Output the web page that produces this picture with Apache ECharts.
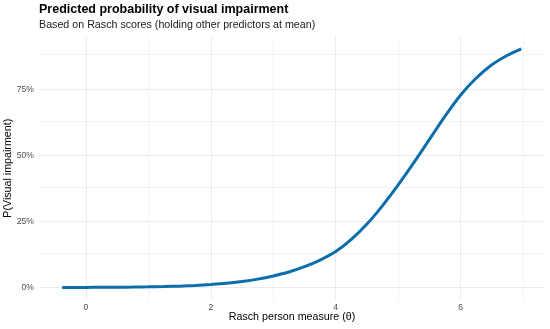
<!DOCTYPE html>
<html>
<head>
<meta charset="utf-8">
<script src="https://cdn.jsdelivr.net/npm/echarts@6/dist/echarts.min.js"></script>
<style>html,body{margin:0;padding:0;background:#fff}#c{width:550px;height:329px}</style>
</head>
<body>
<div id="c"></div>
<script>
// Data
var theta = [-0.38, 0, 0.25, 0.5, 0.75, 1, 1.25, 1.5, 1.75, 2, 2.25, 2.5, 2.75, 3, 3.25, 3.5, 3.75, 4, 4.25, 4.5, 4.75, 5, 5.25, 5.5, 5.75, 6, 6.25, 6.5, 6.75, 6.97];
var prob  = [0.0004, 0.0007, 0.0010, 0.0014, 0.0020, 0.0028, 0.0039, 0.0055, 0.0078, 0.0115, 0.016, 0.023, 0.032, 0.044, 0.059, 0.079, 0.104, 0.136, 0.182, 0.240, 0.310, 0.388, 0.472, 0.560, 0.648, 0.728, 0.792, 0.842, 0.878, 0.902];
var xTicks = [0, 2, 4, 6];
var xMinorGrid = [1, 3, 5, 7];
var yTicks = [0, 0.25, 0.5, 0.75];
var yMinorGrid = [0.125, 0.375, 0.625, 0.875];

var FONT = '"Liberation Sans", Arial, sans-serif';
var chart = echarts.init(document.getElementById('c'), null, {renderer: 'canvas'});

var gridMarks = [];
xTicks.forEach(function (v) { gridMarks.push({xAxis: v, lineStyle: {width: 1}}); });
xMinorGrid.forEach(function (v) { gridMarks.push({xAxis: v, lineStyle: {width: 0.6}}); });
yTicks.forEach(function (v) { gridMarks.push({yAxis: v, lineStyle: {width: 1}}); });
yMinorGrid.forEach(function (v) { gridMarks.push({yAxis: v, lineStyle: {width: 0.6}}); });

chart.setOption({
  animation: false,
  title: [
    {text: 'Predicted probability of visual impairment', left: 39, top: 3.5, padding: 0,
     textStyle: {fontFamily: FONT, fontSize: 12.5, fontWeight: 'bold', color: '#000'}},
    {text: 'Based on Rasch scores (holding other predictors at mean)', left: 39, top: 19.5, padding: 0,
     textStyle: {fontFamily: FONT, fontSize: 10.7, fontWeight: 'normal', color: '#1a1a1a'}}
  ],
  grid: {left: 39, right: 5, top: 37, bottom: 29.5, outerBoundsMode: 'none', containLabel: false},
  xAxis: {
    type: 'value', min: -0.75, max: 7.35,
    name: 'Rasch person measure (θ)', nameLocation: 'middle', nameGap: 12.5, nameMoveOverlap: false,
    nameTextStyle: {fontFamily: FONT, fontSize: 10.7, color: '#000'},
    axisLine: {show: false}, axisTick: {show: false}, splitLine: {show: false},
    axisLabel: {customValues: xTicks, margin: 4, fontFamily: FONT, fontSize: 8.6, color: '#4d4d4d'}
  },
  yAxis: {
    type: 'value', min: -0.045, max: 0.947,
    name: 'P(Visual impairment)', nameLocation: 'middle', nameGap: 25, nameMoveOverlap: false,
    nameTextStyle: {fontFamily: FONT, fontSize: 10.7, color: '#000'},
    axisLine: {show: false}, axisTick: {show: false}, splitLine: {show: false},
    axisLabel: {customValues: yTicks, margin: 5, fontFamily: FONT, fontSize: 8.6, color: '#4d4d4d',
      formatter: function (v) { return Math.round(v * 100) + '%'; }}
  },
  series: [{
    type: 'line',
    data: theta.map(function (t, i) { return [t, prob[i]]; }),
    smooth: 0.2, showSymbol: false, symbol: 'none',
    lineStyle: {color: '#0a6ead', width: 3},
    z: 5,
    markLine: {
      silent: true, symbol: ['none', 'none'], label: {show: false},
      lineStyle: {color: '#ebebeb', type: 'solid'},
      data: gridMarks, z: 1
    }
  }]
});
</script>
</body>
</html>
